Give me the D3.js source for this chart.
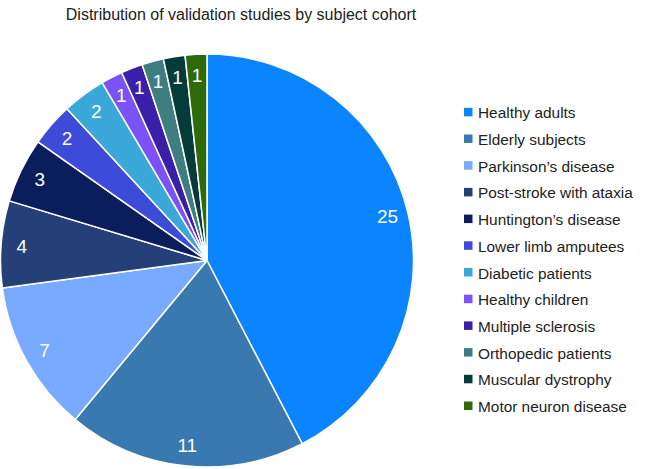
<!DOCTYPE html>
<html>
<head>
<meta charset="utf-8">
<script src="https://cdn.jsdelivr.net/npm/d3@7"></script>
<style>
  html, body { margin: 0; padding: 0; background: #fff; }
  svg { display: block; font-family: "Liberation Sans", Arial, Helvetica, sans-serif; }
</style>
</head>
<body>
<svg id="chart" width="650" height="469"></svg>
<script>
const title = "Distribution of validation studies by subject cohort";
const categories = [
  "Healthy adults", "Elderly subjects", "Parkinson\u2019s disease", "Post-stroke with ataxia",
  "Huntington\u2019s disease", "Lower limb amputees", "Diabetic patients", "Healthy children",
  "Multiple sclerosis", "Orthopedic patients", "Muscular dystrophy", "Motor neuron disease"
];
const values = [25, 11, 7, 4, 3, 2, 2, 1, 1, 1, 1, 1];
const colors = [
  "#0a84ff", "#3a78b0", "#78aaff", "#253f78", "#0a1e5c", "#3c4bd8",
  "#3aa8d8", "#7a52f5", "#3a20a8", "#3e7e80", "#053c3a", "#2e6a0a"
];

const svg = d3.select("#chart");
const cx = 207, cy = 260.5, R = 206.5;

svg.append("text")
  .attr("x", 241).attr("y", 20)
  .attr("text-anchor", "middle")
  .attr("font-size", 16)
  .attr("fill", "#222")
  .text(title);

const data = categories.map((c, i) => ({ name: c, value: values[i], color: colors[i] }));
const pie = d3.pie().value(d => d.value).sort(null);
const arcs = pie(data);
const arc = d3.arc().innerRadius(0).outerRadius(R);
const labelArc = d3.arc().innerRadius(R * 0.9).outerRadius(R * 0.9);

const g = svg.append("g").attr("transform", `translate(${cx},${cy})`);
g.selectAll("path").data(arcs).join("path")
  .attr("d", arc)
  .attr("fill", d => d.data.color)
  .attr("stroke", "#fff")
  .attr("stroke-width", 1.5)
  .attr("stroke-linejoin", "round");

g.selectAll("text.lbl").data(arcs).join("text")
  .attr("class", "lbl")
  .attr("transform", d => `translate(${labelArc.centroid(d)})`)
  .attr("text-anchor", "middle")
  .attr("dy", "0.36em")
  .attr("font-size", 19)
  .attr("fill", "#fff")
  .text(d => d.data.value);

const legend = svg.append("g").attr("transform", "translate(464,0)");
const rowY = d3.scaleLinear().domain([0, 1]).range([118.3, 118.3 + 26.7]);
const items = legend.selectAll("g").data(data).join("g")
  .attr("transform", (d, i) => `translate(0,${rowY(i)})`);
items.append("rect")
  .attr("x", 0).attr("y", -10.5)
  .attr("width", 8.5).attr("height", 8.5)
  .attr("fill", d => d.color);
items.append("text")
  .attr("x", 14).attr("y", 0)
  .attr("font-size", 15.4)
  .attr("fill", "#222")
  .text(d => d.name);
</script>
</body>
</html>
